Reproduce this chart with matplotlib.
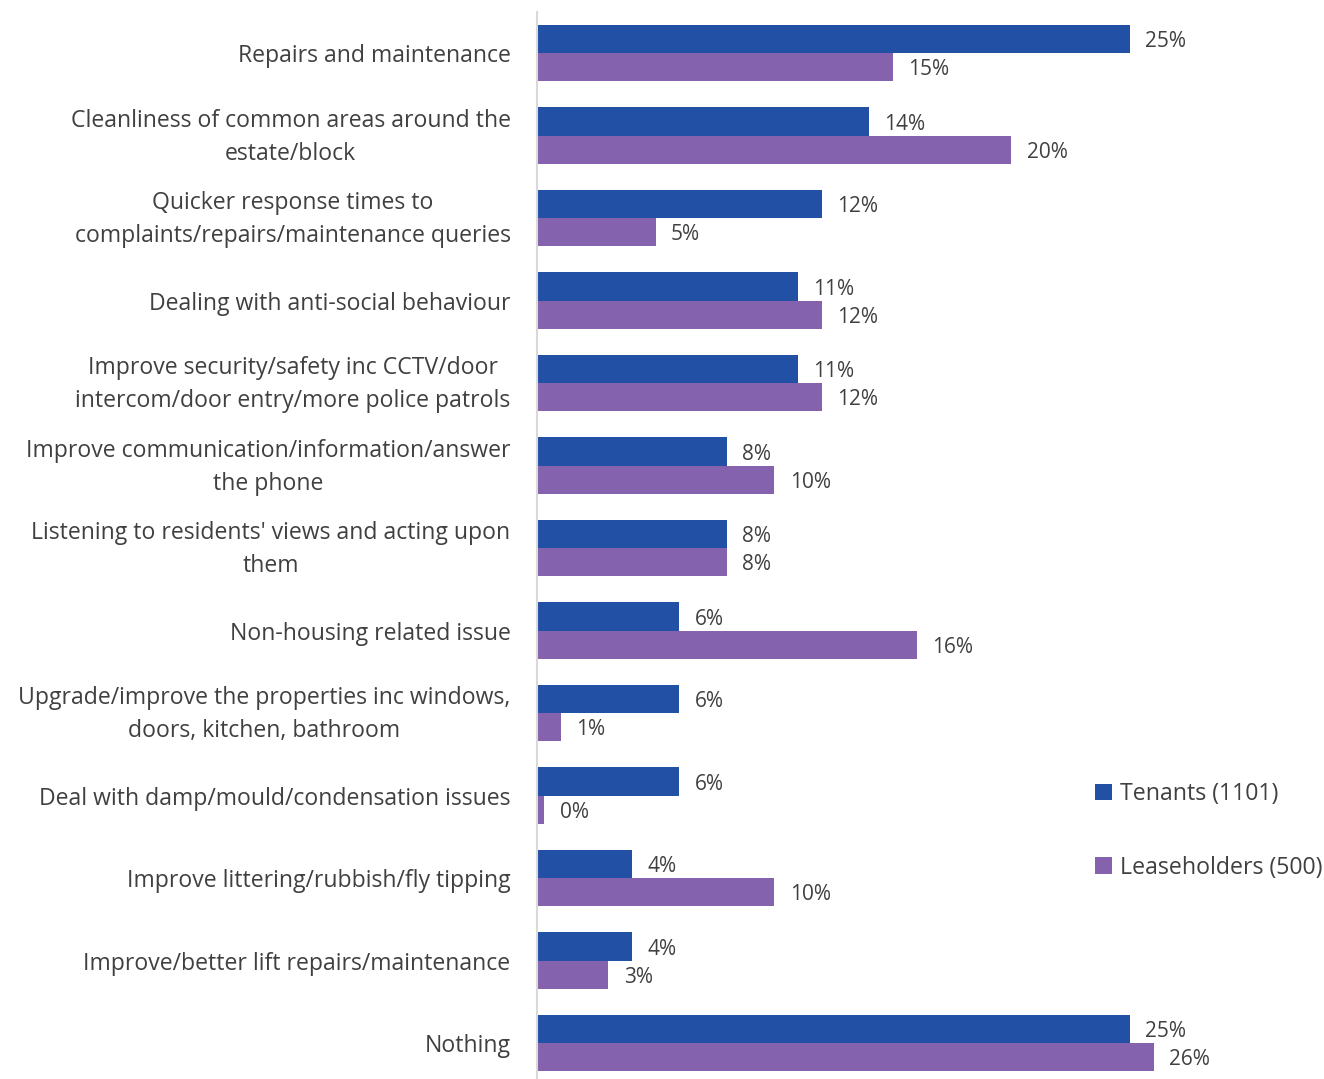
import numpy as np
import matplotlib
matplotlib.use("Agg")
import matplotlib.pyplot as plt
from matplotlib.transforms import ScaledTranslation

categories = [
    "Repairs and maintenance",
    "Cleanliness of common areas around the\nestate/block",
    "Quicker response times to\ncomplaints/repairs/maintenance queries",
    "Dealing with anti-social behaviour",
    "Improve security/safety inc CCTV/door\nintercom/door entry/more police patrols",
    "Improve communication/information/answer\nthe phone",
    "Listening to residents' views and acting upon\nthem",
    "Non-housing related issue",
    "Upgrade/improve the properties inc windows,\ndoors, kitchen, bathroom",
    "Deal with damp/mould/condensation issues",
    "Improve littering/rubbish/fly tipping",
    "Improve/better lift repairs/maintenance",
    "Nothing",
]
tenants = [25, 14, 12, 11, 11, 8, 8, 6, 6, 6, 4, 4, 25]
leaseholders = [15, 20, 5, 12, 12, 10, 8, 16, 1, 0.3, 10, 3, 26]
leaseholder_labels = ["15%", "20%", "5%", "12%", "12%", "10%", "8%", "16%", "1%", "0%", "10%", "3%", "26%"]

blue = "#2150A5"
purple = "#8562AD"
txt = "#404040"
plt.rcParams['font.family'] = ['Open Sans', 'DejaVu Sans']

fig = plt.figure(figsize=(13.24, 10.79), dpi=100)
ax = fig.add_axes([537 / 1324, 0, 1 - 537 / 1324, 1 - 12 / 1079])

y = np.arange(len(categories))
h = 0.34
ax.barh(y - h / 2, tenants, height=h, color=blue, label="Tenants (1101)")
ax.barh(y + h / 2, leaseholders, height=h, color=purple, label="Leaseholders (500)")

# value labels, nudged a little down to sit like the original
for i in range(len(categories)):
    ax.text(tenants[i] + 0.65, y[i] - h / 2 + 0.035, "%d%%" % tenants[i], va="center", ha="left",
            fontsize=15, color=txt)
    ax.text(leaseholders[i] + 0.65, y[i] + h / 2 + 0.035, leaseholder_labels[i], va="center", ha="left",
            fontsize=15, color=txt)

ax.set_xlim(0, 787 / 23.72)
ax.set_ylim(12.436, -0.497)
ax.set_yticks(y)
ax.set_yticklabels(categories, fontsize=16.6, color=txt, linespacing=1.5,
                   multialignment="center")
ax.tick_params(axis="y", length=0, pad=19)
# two-line labels sit a bit low, lift them
for lbl in ax.get_yticklabels():
    if "\n" in lbl.get_text():
        lbl.set_transform(lbl.get_transform() + ScaledTranslation(0, 6 / 100, fig.dpi_scale_trans))
ax.set_xticks([])
for s in ["top", "right", "bottom"]:
    ax.spines[s].set_visible(False)
ax.spines["left"].set_color("#D9D9D9")
ax.spines["left"].set_linewidth(1.5)

leg = ax.legend(loc="upper left", bbox_to_anchor=((1086 - 537) / 787, 1 - (773 - 12) / 1067),
                frameon=False, fontsize=16.7, handlelength=0.7, handleheight=0.7,
                handletextpad=0.35, labelspacing=2.13, borderaxespad=0)
for t in leg.get_texts():
    t.set_color(txt)

fig.savefig("out.png", dpi=100)
